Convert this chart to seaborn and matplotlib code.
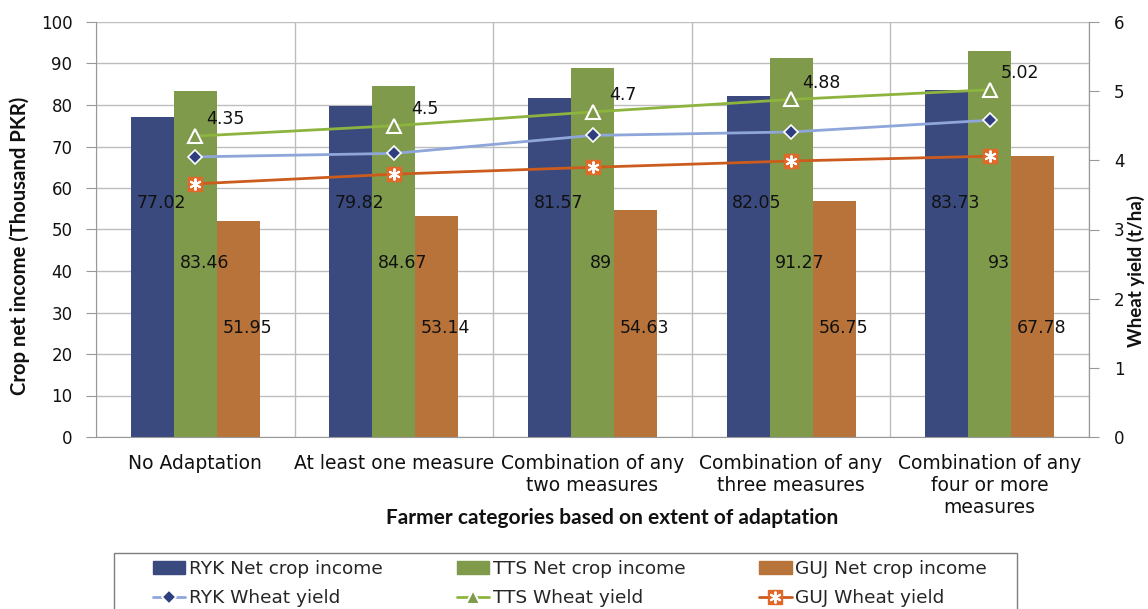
import numpy as np
import pandas as pd
import matplotlib
matplotlib.use("Agg")
import matplotlib.pyplot as plt
import seaborn as sns
from matplotlib.ticker import MultipleLocator, FixedLocator
from matplotlib.patches import Patch, Rectangle

# ---------- data ----------
categories = [
    "No Adaptation",
    "At least one measure",
    "Combination of any\ntwo measures",
    "Combination of any\nthree measures",
    "Combination of any\nfour or more\nmeasures",
]
regions = ["RYK", "TTS", "GUJ"]

income_ryk = [77.02, 79.82, 81.57, 82.05, 83.73]
income_tts = [83.46, 84.67, 89.00, 91.27, 93.00]
income_guj = [51.95, 53.14, 54.63, 56.75, 67.78]
income_labels = {
    "RYK": ["77.02", "79.82", "81.57", "82.05", "83.73"],
    "TTS": ["83.46", "84.67", "89", "91.27", "93"],
    "GUJ": ["51.95", "53.14", "54.63", "56.75", "67.78"],
}

yield_ryk = [4.05, 4.10, 4.36, 4.41, 4.58]
yield_tts = [4.35, 4.50, 4.70, 4.88, 5.02]
yield_guj = [3.66, 3.80, 3.90, 3.99, 4.06]
yield_tts_labels = ["4.35", "4.5", "4.7", "4.88", "5.02"]

# ---------- style ----------
bar_colors = {"RYK": "#3a4a7e", "TTS": "#7f9a4a", "GUJ": "#b8733a"}
grid_col = "#bdbdbd"
txt_col = "#111111"

sns.set_style("white")
plt.rcParams["font.family"] = ["DejaVu Sans"]
plt.rcParams["font.size"] = 12

df = pd.DataFrame({
    "category": categories * 3,
    "region": np.repeat(regions, len(categories)),
    "income": income_ryk + income_tts + income_guj,
})

fig = plt.figure(figsize=(11.48, 6.09), dpi=100)
ax = fig.add_axes([96 / 1148, 1 - 437 / 609, (1089 - 96) / 1148, (437 - 22) / 609])

sns.barplot(data=df, x="category", y="income", hue="region", hue_order=regions,
            palette=bar_colors, width=0.65, gap=0, saturation=1, ax=ax,
            legend=False, linewidth=0)

ax.set_ylim(0, 100)
ax.set_xlim(-0.5, len(categories) - 0.5)
ax.yaxis.set_major_locator(MultipleLocator(10))
ax.set_axisbelow(True)
ax.grid(axis="y", color=grid_col, linewidth=1)
ax.xaxis.set_minor_locator(FixedLocator(np.arange(-0.5, len(categories), 1.0)))
ax.grid(axis="x", which="minor", color=grid_col, linewidth=1)
ax.tick_params(axis="x", which="major", length=0, pad=12, labelsize=13.5, colors=txt_col)
ax.tick_params(axis="x", which="minor", length=7, color="#999999", direction="out")
ax.tick_params(axis="y", length=7, color="#999999", pad=10, labelsize=12, colors=txt_col,
               direction="out", left=True)
for lab in ax.get_xticklabels():
    lab.set_linespacing(1.2)
ax.spines["top"].set_visible(False)
for side in ["left", "bottom", "right"]:
    ax.spines[side].set_color("#999999")

# bar value labels (placed like the Excel labels)
bar_w = 0.65 / 3
label_y = {"RYK": 56.5, "TTS": 42.0, "GUJ": 26.3}
for j, reg in enumerate(regions):
    for i, txt in enumerate(income_labels[reg]):
        ax.text(i + (j - 1) * bar_w + 0.045, label_y[reg], txt,
                ha="center", va="center", fontsize=12.5, color=txt_col)

ax.set_xlabel("Farmer categories based on extent of adaptation",
              fontfamily="Lato", fontweight="bold", fontsize=15, color=txt_col)
ax.xaxis.label.set_va("center")
ax.xaxis.set_label_coords(0.52, -0.195)
ax.set_ylabel("Crop net income (Thousand PKR)", fontfamily="Lato",
              fontweight="bold", fontsize=14.6, color=txt_col)
ax.yaxis.set_label_coords(-0.066, 0.46)

# ---------- wheat yield lines ----------
ax2 = ax.twinx()
x = np.arange(len(categories))
l_ryk, = ax2.plot(x, yield_ryk, color="#8fa6da", lw=2, marker="D", ms=7,
                  markerfacecolor="#2e3e7e", markeredgecolor="white", mew=1.2,
                  label="RYK Wheat yield")
l_tts, = ax2.plot(x, yield_tts, color="#8db43e", lw=2, marker="^", ms=9.5,
                  markerfacecolor="#7f9a4a", markeredgecolor="white", mew=1.5,
                  label="TTS Wheat yield")
l_guj, = ax2.plot(x, yield_guj, color="#cc5c1e", lw=2, marker="s", ms=9.5,
                  markerfacecolor="#e0692a", markeredgecolor="#e0692a",
                  label="GUJ Wheat yield")
l_guj_star, = ax2.plot(x, yield_guj, linestyle="none", marker=(6, 2, 0), ms=8.5,
                       color="white", mew=1.4)
for i, txt in enumerate(yield_tts_labels):
    ax2.annotate(txt, (x[i], yield_tts[i]), xytext=(22, 12), textcoords="offset points",
                 ha="center", va="center", fontsize=12.5, color=txt_col)

ax2.set_ylim(0, 6)
ax2.yaxis.set_major_locator(MultipleLocator(1))
ax2.tick_params(axis="y", length=7, color="#999999", pad=11, labelsize=12,
                colors=txt_col, direction="out")
for side in ["top", "left", "bottom"]:
    ax2.spines[side].set_visible(False)
ax2.spines["right"].set_color("#999999")
ax2.set_ylabel("Wheat yield (t/ha)", fontfamily="Lato", fontweight="bold",
               fontsize=13.5, color=txt_col)
ax2.yaxis.label.set_va("center")
ax2.yaxis.set_label_coords(1.047, 0.40)

# ---------- legend ----------
handles = [
    Patch(color=bar_colors["RYK"]), l_ryk,
    Patch(color=bar_colors["TTS"]), l_tts,
    Patch(color=bar_colors["GUJ"]), (l_guj, l_guj_star),
]
labels = ["RYK Net crop income", "RYK Wheat yield",
          "TTS Net crop income", "TTS Wheat yield",
          "GUJ Net crop income", "GUJ Wheat yield"]
fig.legend(handles, labels, ncol=3, loc="upper left",
           bbox_to_anchor=(153 / 1148, 1 - 560 / 609), frameon=False,
           fontsize=13.3, handlelength=1.75, handletextpad=0.2,
           columnspacing=4.0, labelspacing=0.6, borderpad=0,
           borderaxespad=0)
fig.add_artist(Rectangle((114 / 1148, -0.1), (1017 - 114) / 1148, 0.1 + (1 - 553 / 609),
                         transform=fig.transFigure, fill=False,
                         edgecolor="#7f7f7f", linewidth=1))

fig.savefig("out.png", dpi=100)
